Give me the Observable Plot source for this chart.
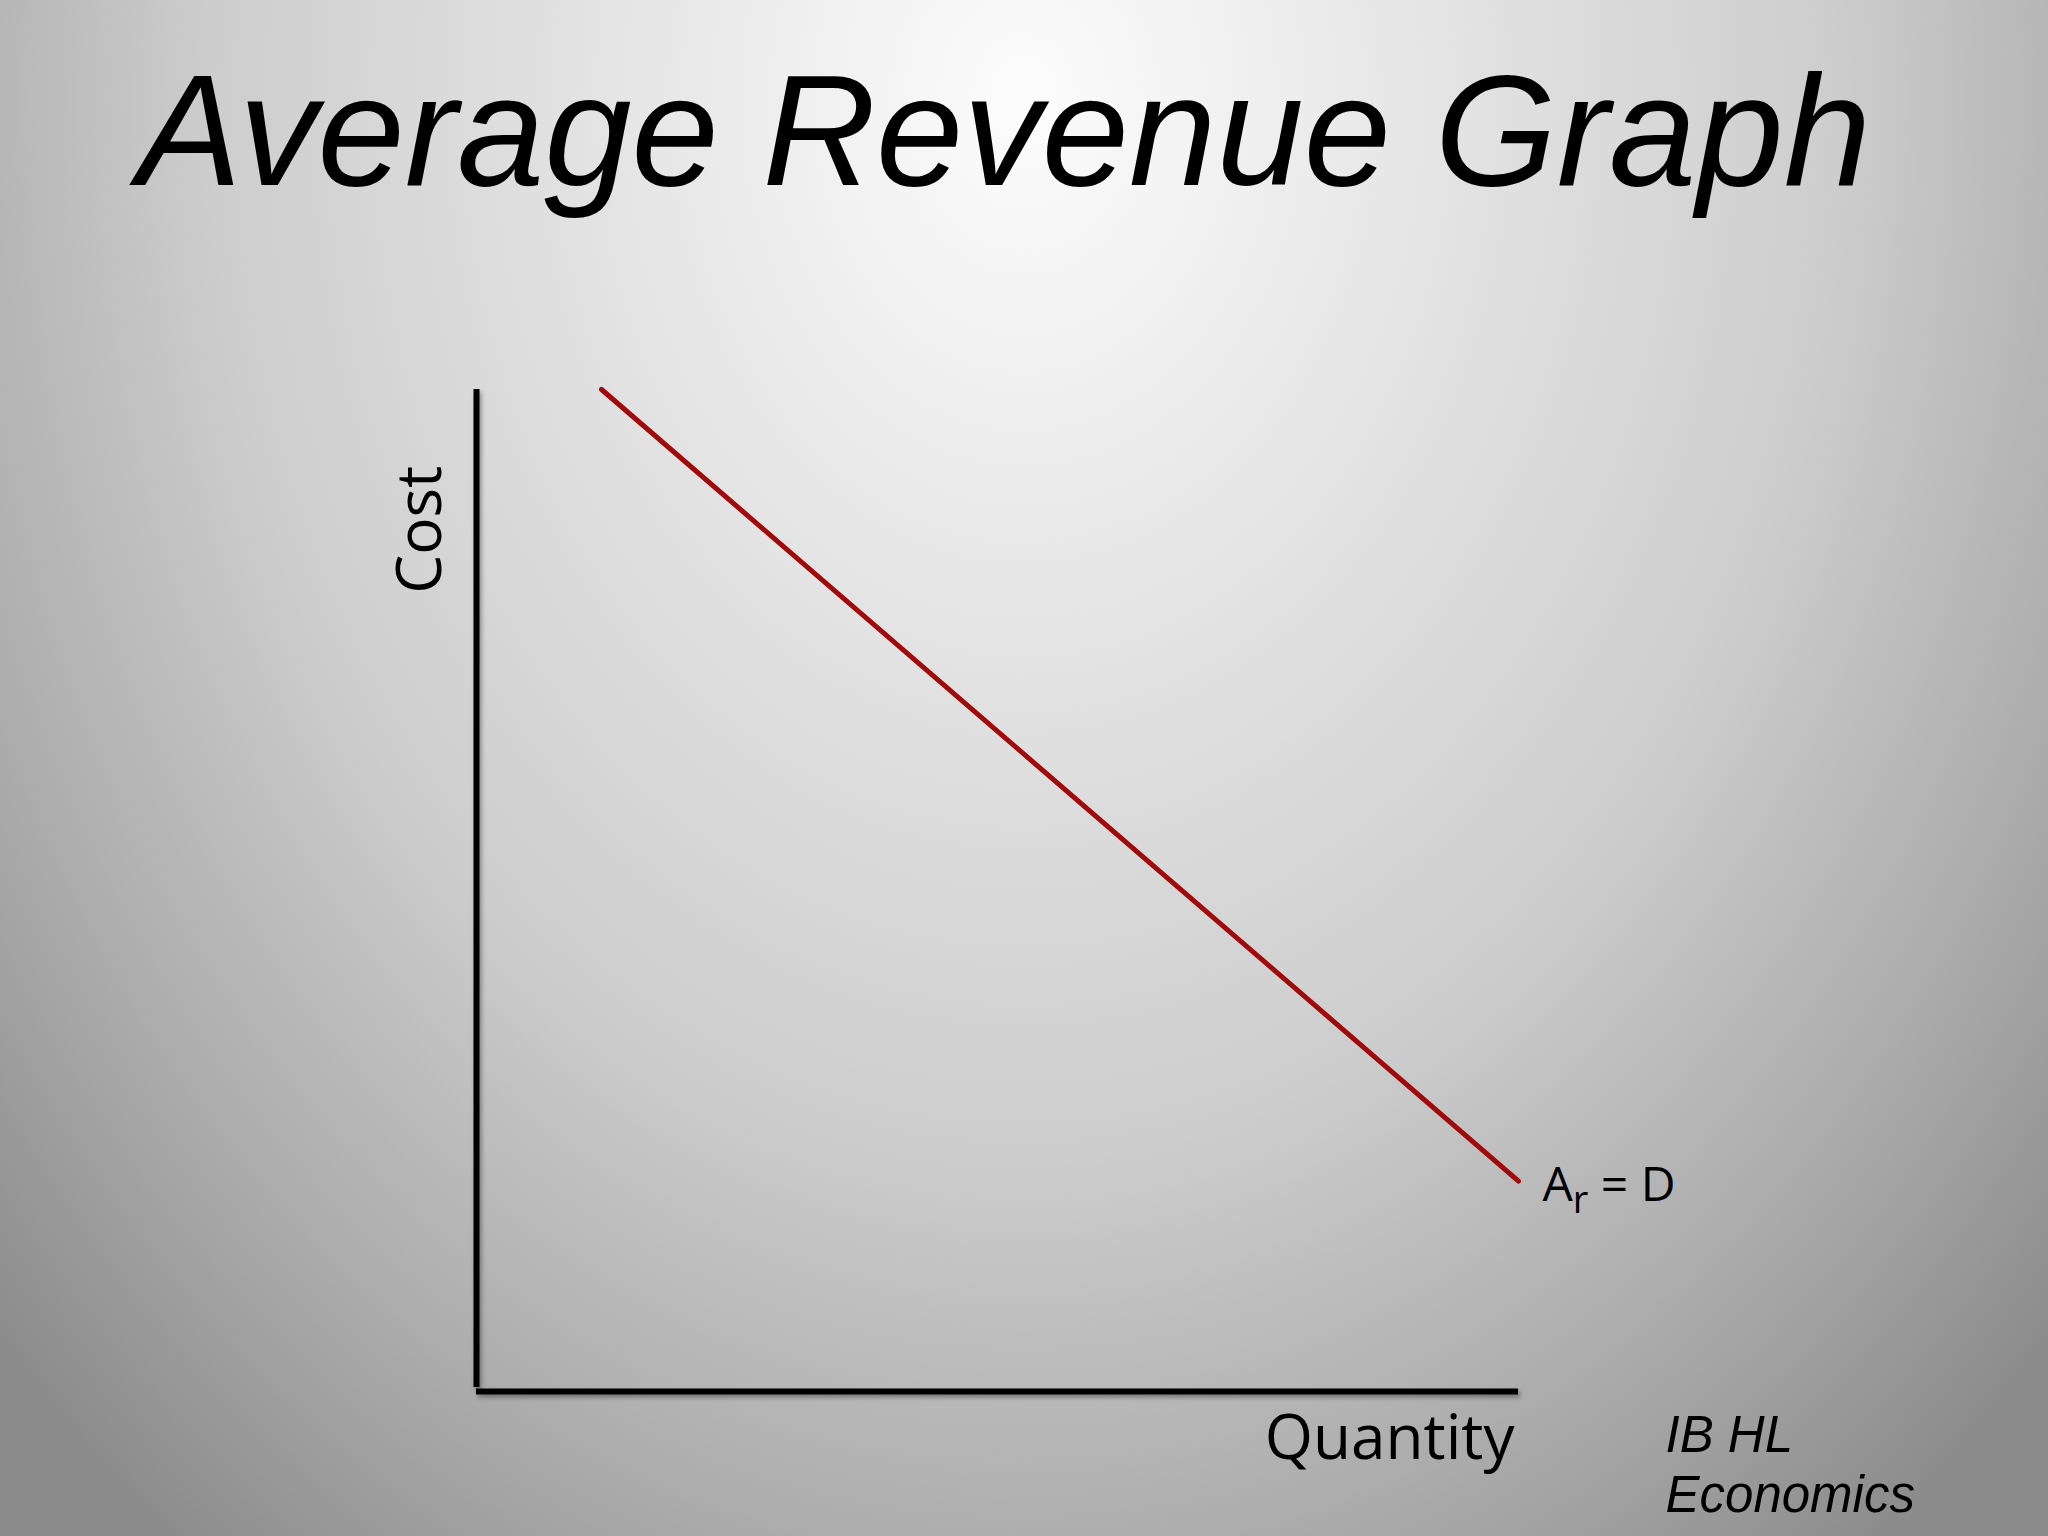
<!DOCTYPE html>
<html>
<head>
<meta charset="utf-8">
<script src="https://cdn.jsdelivr.net/npm/d3@7"></script>
<script src="https://cdn.jsdelivr.net/npm/@observablehq/plot@0.6"></script>
<style>
  html, body { margin: 0; padding: 0; }
  #page {
    position: relative;
    width: 2048px;
    height: 1536px;
    overflow: hidden;
    background: radial-gradient(ellipse 1400px 1815px at 1024px 100px,
      #fcfcfc 0%, #f3f3f3 12%, #dedede 37%, #cdcdcd 58%, #bbbbbb 70%, #adadad 80%, #9b9b9b 91%, #8c8c8c 100%);
  }
  #title {
    position: absolute;
    left: 137px;
    top: 52px;
    font-family: "Liberation Sans", Arial, sans-serif;
    font-style: italic;
    font-size: 157px;
    line-height: 1;
    white-space: nowrap;
    color: #000;
  }
  #chart { position: absolute; left: 0; top: 240px; }
</style>
</head>
<body>
<div id="page">
  <div id="title">Average Revenue Graph</div>
  <div id="chart"></div>
</div>
<script>
// ---- data ----
const quantity = [12, 100];          // Q at the two ends of the AR line
const averageRevenue = [100, 21];    // Cost at the two ends of the AR line
const axisDomain = [0, 100];
const xAxisLabel = "Quantity";
const yAxisLabel = "Cost";
const curveLabel = "A_r = D";
const creditLines = ["IB HL", "Economics"];

const arLine = quantity.map((q, i) => ({q, c: averageRevenue[i]}));
const endPoint = arLine[arLine.length - 1];

const chart = Plot.plot({
  width: 2048,
  height: 1296,
  marginLeft: 476,
  marginRight: 530,
  marginTop: 149,
  marginBottom: 145,
  style: {background: "transparent", overflow: "visible"},
  x: {domain: axisDomain, axis: null},
  y: {domain: axisDomain, axis: null},
  marks: [
    Plot.ruleX([axisDomain[0]], {y1: 0.4, y2: axisDomain[1], stroke: "#000", strokeWidth: 6}),
    Plot.ruleY([axisDomain[0]], {x1: axisDomain[0], x2: axisDomain[1], stroke: "#000", strokeWidth: 6}),
    Plot.line(arLine, {x: "q", y: "c", stroke: "#a00a0a", strokeWidth: 5}),
    Plot.text([curveLabel], {x: endPoint.q, y: endPoint.c, text: d => d, textAnchor: "start", lineAnchor: "bottom",
      dx: 24, dy: 20, fontSize: 48, fontFamily: "Open Sans", fill: "#000"}),
    Plot.text([xAxisLabel], {x: axisDomain[1], y: axisDomain[0], text: d => d, textAnchor: "end", lineAnchor: "bottom",
      dx: -4, dy: 67, fontSize: 62, fontFamily: "Open Sans", fill: "#000"}),
    Plot.text([yAxisLabel], {x: axisDomain[0], y: 86, text: d => d, rotate: -90, textAnchor: "middle", lineAnchor: "bottom",
      dx: -36, fontSize: 62, fontFamily: "Open Sans", fill: "#000"}),
    Plot.text([creditLines.join("\n")], {x: axisDomain[1], y: axisDomain[0], text: d => d, textAnchor: "start", lineAnchor: "top",
      dx: 147, dy: 18, lineHeight: 1.17, fontSize: 51, fontStyle: "italic", fontFamily: "Liberation Sans", fill: "#000"})
  ]
});

// subscript r in the curve label
d3.select(chart).selectAll("text").filter(function() { return this.textContent === curveLabel; }).each(function() {
  const t = d3.select(this);
  t.text(null);
  t.append("tspan").text("A");
  t.append("tspan").attr("dy", 12).attr("font-size", 38).text("r");
  t.append("tspan").attr("dy", -12).text(" = D");
});
// subtle shadow on axis rules
d3.select(chart).selectAll('g[aria-label="rule"]').style("filter", "drop-shadow(2px 3px 2px rgba(0,0,0,0.35))");

document.getElementById("chart").appendChild(chart);
</script>
</body>
</html>
